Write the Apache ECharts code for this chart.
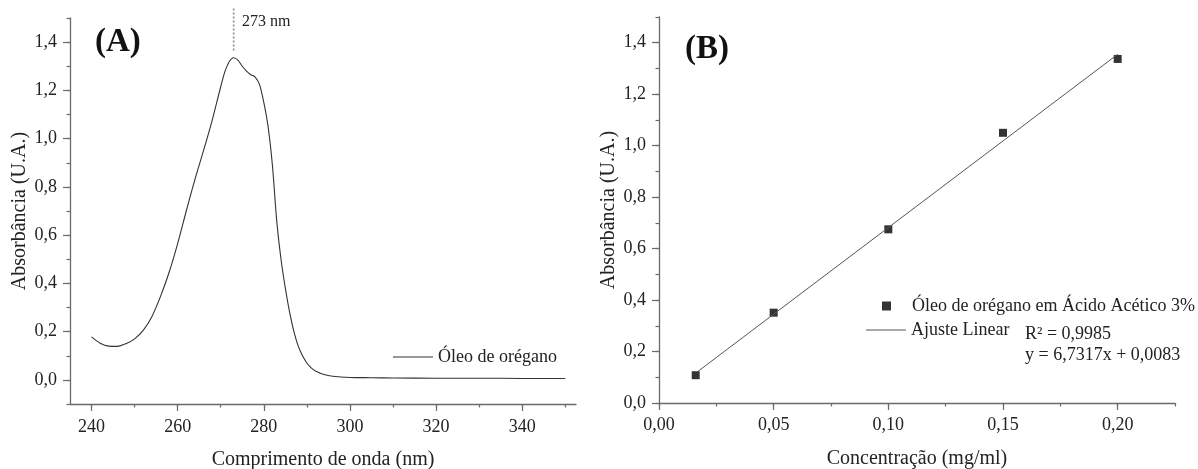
<!DOCTYPE html>
<html>
<head>
<meta charset="utf-8">
<script src="https://cdn.jsdelivr.net/npm/echarts@6.0.0/dist/echarts.min.js"></script>
<style>
html,body{margin:0;padding:0;background:#fff;}
#c{width:1198px;height:469px;}
</style>
</head>
<body>
<div id="c"></div>
<script>
// ---- Panel A: UV spectrum ----
const wavelength = [240,242,244,246,248,250,252,254,256,258,260,262,264,266,268,270,271,272,273,274,275,276,277,278,279,280,281,282,283,284,285,286,287,288,289,290,291,292,294,296,300,305,310,320,330,340,350];
const absorbanceA = [0.178,0.152,0.140,0.139,0.150,0.170,0.205,0.262,0.345,0.445,0.565,0.700,0.830,0.950,1.075,1.215,1.280,1.320,1.335,1.325,1.300,1.280,1.265,1.255,1.225,1.150,1.050,0.890,0.660,0.500,0.380,0.280,0.200,0.140,0.100,0.070,0.050,0.037,0.022,0.015,0.010,0.009,0.008,0.007,0.007,0.006,0.006];
const peakX = [273, 273];
const peakY = [1.365, 1.54];
const aXLabels = [240,260,280,300,320,340];
const aXTicks = [240,250,260,270,280,290,300,310,320,330,340,350];
const aYLabels = [0,0.2,0.4,0.6,0.8,1.0,1.2,1.4];
const aYTicks = [-0.1,0,0.1,0.2,0.3,0.4,0.5,0.6,0.7,0.8,0.9,1.0,1.1,1.2,1.3,1.4,1.5];

// ---- Panel B: calibration ----
const concentration = [0.016, 0.05, 0.10, 0.15, 0.20];
const absorbanceB = [0.108, 0.351, 0.675, 1.050, 1.337];
const fitX = [0.017, 0.20];
const fitY = [0.123, 1.355];
const bXLabels = [0,0.05,0.10,0.15,0.20];
const bXTicks = [0,0.025,0.05,0.075,0.10,0.125,0.15,0.175,0.20,0.225];
const bYLabels = [0,0.2,0.4,0.6,0.8,1.0,1.2,1.4];
const bYTicks = [0,0.1,0.2,0.3,0.4,0.5,0.6,0.7,0.8,0.9,1.0,1.1,1.2,1.3,1.4,1.5];

const FONT = 'Liberation Serif';
const TXT = '#222';
const AX = '#6a6a6a';
const fmt1 = v => v.toFixed(1).replace('.', ',');
const fmt2 = v => v.toFixed(2).replace('.', ',');

function mainAxis(extra){
  return Object.assign({
    type:'value',
    axisLine:{show:true, onZero:false, lineStyle:{color:AX, width:1.3}},
    splitLine:{show:false},
    nameLocation:'middle',
    nameTextStyle:{color:TXT, fontFamily:FONT, fontSize:20}
  }, extra);
}
function overlayAxis(extra){
  return Object.assign({
    type:'value',
    axisLine:{show:false, onZero:false},
    axisLabel:{show:false},
    splitLine:{show:false}
  }, extra);
}
function ticks(vals, len){ return {show:true, length:len, customValues:vals, lineStyle:{color:AX, width:1.2}}; }
function labels(vals, f, m){ return {color:TXT, fontFamily:FONT, fontSize:18, margin:m, customValues:vals, formatter:f}; }

const option = {
  backgroundColor:'#fff',
  animation:false,
  grid:[
    {left:70, right:622, top:18, bottom:65, containLabel:false, outerBoundsMode:'none'},
    {left:659, right:23, top:17, bottom:66, containLabel:false, outerBoundsMode:'none'}
  ],
  title:[
    {text:'(A)', left:95, top:26, padding:0, textStyle:{fontFamily:FONT, fontSize:33, fontWeight:'bold', color:'#111'}},
    {text:'(B)', left:685, top:33, padding:0, textStyle:{fontFamily:FONT, fontSize:33, fontWeight:'bold', color:'#111'}},
    {text:'273 nm', left:242, top:14, padding:0, textStyle:{fontFamily:FONT, fontSize:16, fontWeight:'normal', color:TXT}},
    {text:'R² = 0,9985\ny = 6,7317x + 0,0083', left:1025, top:324, padding:0,
      textStyle:{fontFamily:FONT, fontSize:18, fontWeight:'normal', color:TXT, lineHeight:21}}
  ],
  legend:[
    {data:[{name:'Óleo de orégano', icon:'rect'}], left:393, top:348, padding:0, itemWidth:40, itemHeight:1,
      textStyle:{fontFamily:FONT, fontSize:18, color:TXT}},
    {data:['Óleo de orégano em Ácido Acético 3%'], left:882, top:297, padding:0, itemWidth:9, itemHeight:9,
      textStyle:{fontFamily:FONT, fontSize:18, color:TXT, padding:[0,0,0,16]}},
    {data:[{name:'Ajuste Linear', icon:'rect'}], left:866, top:321, padding:0, itemWidth:40, itemHeight:1,
      textStyle:{fontFamily:FONT, fontSize:18, color:TXT}}
  ],
  xAxis:[
    mainAxis({gridIndex:0, min:235, max:352.5, position:'bottom',
      axisTick:ticks(aXTicks, 3.5),
      axisLabel:labels(aXLabels, v=>String(Math.round(v)), 14),
      name:'Comprimento de onda (nm)', nameGap:46}),
    overlayAxis({gridIndex:0, min:235, max:352.5, position:'bottom', axisTick:ticks(aXLabels, 7)}),
    mainAxis({gridIndex:1, min:0, max:0.225, position:'bottom',
      axisTick:ticks(bXTicks, 3.5),
      axisLabel:labels(bXLabels, fmt2, 13),
      name:'Concentração (mg/ml)', nameGap:46}),
    overlayAxis({gridIndex:1, min:0, max:0.225, position:'bottom', axisTick:ticks(bXLabels, 7)})
  ],
  yAxis:[
    mainAxis({gridIndex:0, min:-0.1, max:1.5, position:'left',
      axisTick:ticks(aYTicks, 3.5),
      axisLabel:labels(aYLabels, fmt1, 13),
      name:'Absorbância (U.A.)', nameGap:40}),
    overlayAxis({gridIndex:0, min:-0.1, max:1.5, position:'left', axisTick:ticks(aYLabels, 7)}),
    mainAxis({gridIndex:1, min:0, max:1.5, position:'left',
      axisTick:ticks(bYTicks, 3.5),
      axisLabel:labels(bYLabels, fmt1, 13),
      name:'Absorbância (U.A.)', nameGap:40}),
    overlayAxis({gridIndex:1, min:0, max:1.5, position:'left', axisTick:ticks(bYLabels, 7)})
  ],
  series:[
    {name:'Óleo de orégano', type:'line', xAxisIndex:0, yAxisIndex:0,
      data:wavelength.map((w,i)=>[w, absorbanceA[i]]),
      smooth:0.3, symbol:'none', lineStyle:{color:'#333', width:1.1}, itemStyle:{color:'#333'}},
    {name:'peak', type:'line', xAxisIndex:0, yAxisIndex:0, clip:false,
      data:peakX.map((x,i)=>[x, peakY[i]]), symbol:'none',
      lineStyle:{color:'#8a8a8a', width:1.6, type:[2,2]}},
    {name:'Ajuste Linear', type:'line', xAxisIndex:2, yAxisIndex:2,
      data:fitX.map((x,i)=>[x, fitY[i]]), symbol:'none',
      lineStyle:{color:'#555', width:1}, itemStyle:{color:'#555'}},
    {name:'Óleo de orégano em Ácido Acético 3%', type:'scatter', xAxisIndex:2, yAxisIndex:2,
      data:concentration.map((x,i)=>[x, absorbanceB[i]]),
      symbol:'rect', symbolSize:8, itemStyle:{color:'#000'}}
  ]
};
const chart = echarts.init(document.getElementById('c'), null, {renderer:'canvas'});
chart.setOption(option);
</script>
</body>
</html>
